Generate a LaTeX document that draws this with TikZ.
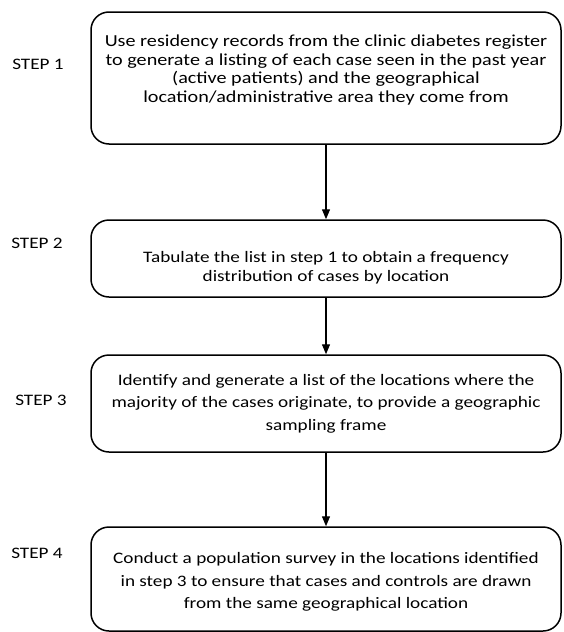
\documentclass[tikz,border=0pt]{standalone}
\usepackage{fontspec}
\setmainfont{Carlito}[FakeStretch=1.2]
\usetikzlibrary{arrows.meta}
\begin{document}
\begin{tikzpicture}[>={Triangle[length=10pt,width=8pt]},x=1pt,y=-1pt,
  stepbox/.style={draw,line width=1.5pt,rounded corners=18pt,minimum width=470pt,inner sep=0pt},
  steptext/.style={align=center,inner sep=0pt,font=\fontsize{16}{22.5}\selectfont},
  steplabel/.style={font=\fontsize{16}{18}\selectfont}]
  \useasboundingbox (0,0) rectangle (563,632);
  % boxes
  \node[stepbox,minimum height=132pt] (b1) at (326,78) {};
  \node[stepbox,minimum height=77pt] (b2) at (326,258.5) {};
  \node[stepbox,minimum height=97pt] (b3) at (326,403.5) {};
  \node[stepbox,minimum height=104pt] (b4) at (326,579) {};
  % texts in the boxes
  \node[steptext,font=\fontsize{16.8}{18.5}\selectfont] (t1) at ([yshift=8pt]b1.center)
    {Use residency records from the clinic diabetes register\\
     to generate a listing of each case seen in the past year\\
     (active patients) and the geographical\\
     location/administrative area they come from};
  \node[steptext,font=\fontsize{16}{18.5}\selectfont] (t2) at ([yshift=-9pt]b2.center)
    {Tabulate the list in step 1 to obtain a frequency\\
     distribution of cases by location};
  \node[steptext] (t3) at (b3.center)
    {Identify and generate a list of the locations where the\\
     majority of the cases originate, to provide a geographic\\
     sampling frame};
  \node[steptext] (t4) at ([yshift=-3pt]b4.center)
    {Conduct a population survey in the locations identified\\
     in step 3 to ensure that cases and controls are drawn\\
     from the same geographical location};
  % labels
  \node[steplabel] (l1) at (38,64) {STEP 1};
  \node[steplabel] (l2) at (37,243) {STEP 2};
  \node[steplabel] (l3) at (41,400) {STEP 3};
  \node[steplabel] (l4) at (37,553) {STEP 4};
  % arrows
  \draw[->,line width=1.3pt] (b1) -- (b2);
  \draw[->,line width=1.3pt] (b2) -- (b3);
  \draw[->,line width=1.3pt] (b3) -- (b4);
\end{tikzpicture}
\end{document}
